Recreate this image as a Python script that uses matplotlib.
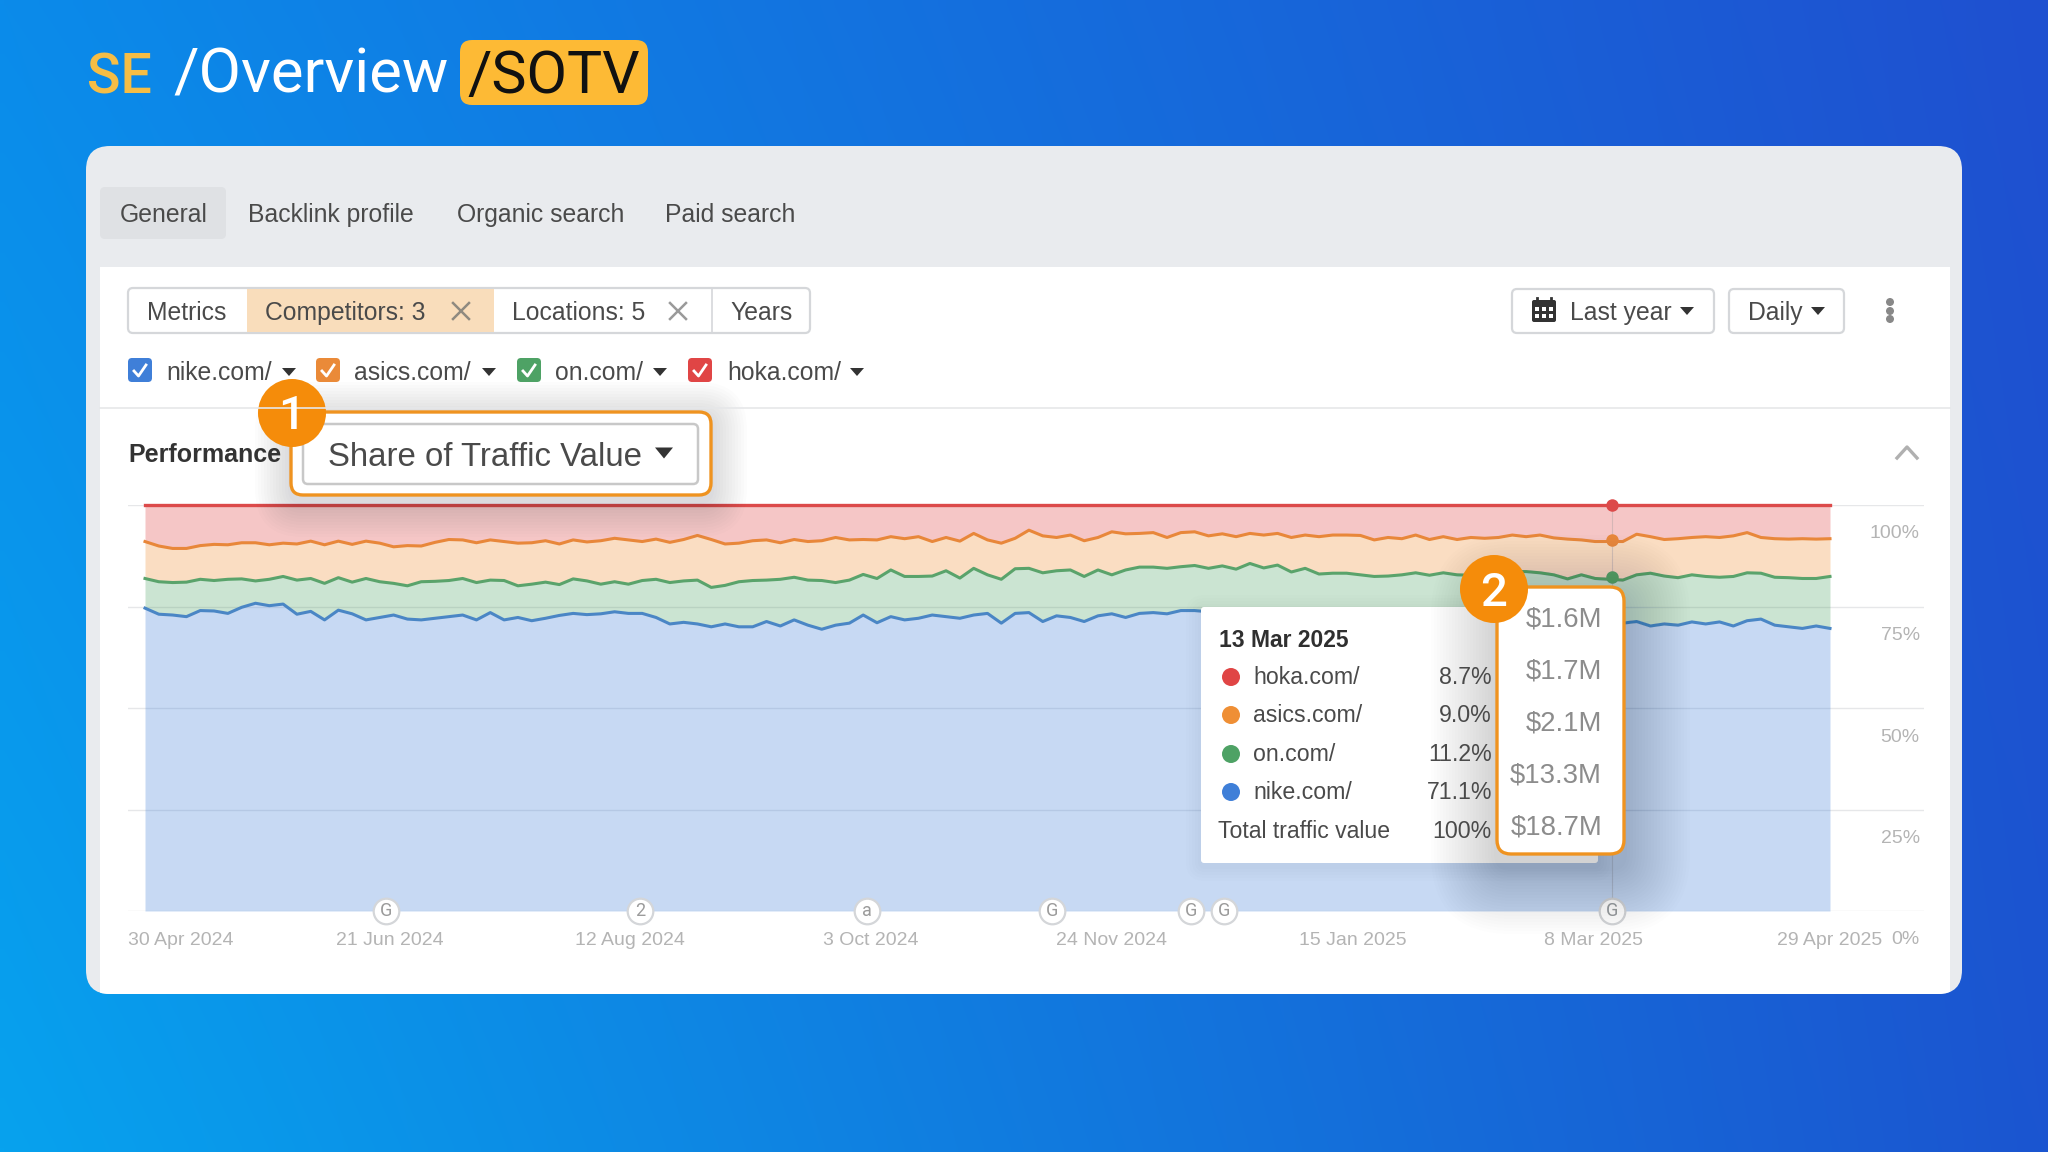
# SE /Overview /SOTV - share of traffic value stacked chart inside a dashboard card
import numpy as np
import matplotlib
matplotlib.use('Agg')
import matplotlib.pyplot as plt
from matplotlib.patches import FancyBboxPatch, Circle, Rectangle, Polygon
from matplotlib.transforms import ScaledTranslation

plt.rcParams['font.family'] = ['Liberation Sans', 'DejaVu Sans']

# cumulative share in percent (about every 3 days)
nike_top = [74.6, 73.1, 72.9, 72.5, 74.0, 73.9, 73.3, 74.8, 75.8, 75.2, 75.6, 73.1, 73.8, 71.7, 74.1, 73.2, 71.7,
            72.3, 72.9, 71.9, 71.7, 72.1, 72.5, 72.9, 71.7, 73.5, 71.7, 72.3, 71.5, 72.1, 72.8, 73.3, 73.0, 73.2,
            73.7, 73.3, 73.3, 72.3, 70.7, 71.1, 70.7, 70.0, 70.7, 70.0, 70.0, 71.3, 70.2, 71.7, 70.4,
            69.4, 70.4, 70.9, 72.9, 71.0, 72.5, 71.7, 72.1, 72.9, 72.5, 72.1, 72.9, 73.3, 70.9, 73.3, 73.5, 71.3,
            72.7, 72.3, 71.3, 72.7, 73.2, 72.3, 73.3, 73.5, 73.2, 74.0, 74.0,
            73.7, 73.5, 74.0, 73.3, 73.6, 73.2, 72.9, 73.3, 73.0, 72.7, 72.9, 72.5, 72.3, 72.7, 72.2, 72.0, 72.3,
            71.8, 72.1, 71.7, 71.8, 71.5, 71.7, 71.3, 71.2, 71.5, 71.2, 71.0, 71.2, 70.9,
            70.9, 71.3, 70.2, 70.7, 70.4, 71.2, 70.7, 71.2, 70.2, 71.5, 71.9, 70.4, 70.0, 69.6, 70.2, 69.6]
on_top = [81.9, 81.1, 80.9, 81.0, 81.7, 81.4, 81.7, 81.8, 81.3, 81.7, 82.4, 81.5, 81.9, 80.7, 82.1, 81.0, 81.9,
          81.1, 80.7, 80.1, 81.1, 81.2, 81.4, 81.9, 80.9, 81.5, 81.4, 80.1, 80.5, 81.0, 80.4, 81.8, 81.3, 80.5,
          81.1, 80.5, 81.4, 81.7, 80.9, 81.3, 81.5, 79.7, 80.2, 81.1, 81.4, 81.5, 81.7, 82.2, 81.5,
          81.4, 80.9, 81.5, 82.9, 81.9, 84.0, 82.4, 82.4, 82.5, 83.8, 82.0, 84.4, 82.8, 81.7, 84.3, 84.4, 83.3,
          83.8, 84.0, 82.4, 84.0, 82.8, 84.0, 84.7, 84.7, 84.4, 84.8, 85.1, 84.4, 85.0, 84.2, 85.6, 84.5, 85.2,
          83.5, 84.4, 83.0, 83.2, 83.2, 82.8, 82.4, 82.5, 82.8, 83.3, 82.7, 83.3, 82.8, 82.7, 82.5,
          83.2, 83.6, 83.6, 83.3, 82.8, 81.8, 82.8, 81.9, 81.7, 81.5, 82.8, 83.2, 82.5, 82.1, 82.8, 82.4, 82.2,
          82.4, 83.3, 83.2, 82.2, 82.1, 81.9, 81.9, 82.4]
asics_top = [91.0, 89.9, 89.3, 89.3, 90.0, 90.3, 90.2, 90.7, 90.7, 90.2, 90.6, 90.4, 91.1, 90.2, 91.1, 90.3, 91.1,
             90.6, 89.7, 90.0, 89.9, 90.8, 91.5, 91.4, 90.7, 91.4, 91.0, 90.6, 90.7, 91.2, 90.4, 91.4, 90.9, 91.2,
             91.8, 91.4, 91.0, 91.6, 90.8, 91.5, 92.5, 91.5, 90.4, 90.6, 91.2, 91.4, 90.7, 91.5, 91.0,
             91.2, 92.0, 91.4, 91.5, 91.4, 92.2, 91.7, 92.2, 91.0, 92.0, 91.1, 93.0, 91.4, 90.6, 91.8, 93.8, 92.4,
             92.0, 92.6, 91.2, 92.0, 93.4, 92.9, 93.0, 93.2, 92.0, 93.2, 93.4, 92.4, 92.9, 92.2, 93.0, 92.6, 93.0,
             92.0, 92.6, 92.2, 92.6, 92.6, 92.5, 91.4, 92.0, 91.7, 92.6, 91.5, 92.2, 91.5, 92.0, 91.8,
             92.0, 92.6, 92.2, 92.6, 91.9, 91.6, 91.4, 91.0, 91.0, 91.0, 92.8, 92.2, 91.5, 91.7, 92.0, 92.2, 92.0,
             92.4, 93.2, 92.0, 91.7, 91.6, 91.7, 91.6, 91.7]
hoka_top = [100.0] * len(nike_top)

tick_days = [0, 52, 104, 156, 208, 260, 312, 364]
tick_labels = ['30 Apr 2024', '21 Jun 2024', '12 Aug 2024', '3 Oct 2024', '24 Nov 2024', '15 Jan 2025', '8 Mar 2025',
               '29 Apr 2025']
pct_ticks = [0, 25, 50, 75, 100]
pct_labels = ['0%', '25%', '50%', '75%', '100%']

event_days = [52, 107, 156, 196, 226, 233, 317]
event_marks = ['G', '2', 'a', 'G', 'G', 'G', 'G']

cursor_day = 317
tip_sites = ['hoka.com/', 'asics.com/', 'on.com/', 'nike.com/']
tip_shares = [8.7, 9.0, 11.2, 71.1]
tip_values = ['$1.6M', '$1.7M', '$2.1M', '$13.3M', '$18.7M']

RED, ORANGE, GREEN, BLUE = '#dc4a4a', '#e8873a', '#5aa36b', '#4a86c5'
BADGE = '#f58c0a'
TXT = '#4a4a4a'

W, H = 2048, 1152
fig = plt.figure(figsize=(W / 100, H / 100), dpi=100)


def px_axes(z):
    a = fig.add_axes([0, 0, 1, 1], zorder=z)
    a.set_xlim(0, W)
    a.set_ylim(H, 0)
    a.axis('off')
    a.patch.set_alpha(0)
    return a


def rbox(a, x0, y0, x1, y1, r, fc='white', ec='none', lw=0, alpha=None):
    p = FancyBboxPatch((x0 + r, y0 + r), x1 - x0 - 2 * r, y1 - y0 - 2 * r, boxstyle=f'round,pad={r},rounding_size={r}',
                       fc=fc, ec=ec, lw=lw, alpha=alpha)
    a.add_patch(p)
    return p


def shadow(a, x0, y0, x1, y1, r, spread, dy=0, strength=0.012):
    for i in range(spread, 0, -3):
        rbox(a, x0 - i, y0 - i + dy, x1 + i, y1 + i + dy, r + i, fc='#10203a', alpha=strength)


def tri(a, x, y, w=14, h=8, c='#333333'):
    a.add_patch(Polygon([(x - w / 2, y - h / 2), (x + w / 2, y - h / 2), (x, y + h / 2)], fc=c, ec='none'))


# background gradient and card
bg = px_axes(0)
tl, tr, bl, br = [np.array(matplotlib.colors.to_rgb(c)) for c in ('#0b8bea', '#1f50d0', '#07a2ee', '#1b55d0')]
u, v = np.meshgrid(np.linspace(0, 1, 256), np.linspace(0, 1, 144))
grad = ((1 - u) * (1 - v))[..., None] * tl + (u * (1 - v))[..., None] * tr + ((1 - u) * v)[..., None] * bl + (u * v)[..., None] * br
bg.imshow(grad, extent=(0, W, H, 0), aspect='auto', interpolation='bilinear')
bg.set_xlim(0, W)
bg.set_ylim(H, 0)
card = rbox(bg, 86, 146, 1962, 994, 24, fc='#e9ebee')
panel = Rectangle((100, 267), 1850, 740, fc='white', ec='none')
bg.add_patch(panel)
panel.set_clip_path(card)

# chart
left, right, top, bottom = 128, 1924, 505, 911
ppd = 1685 / 364
ax = fig.add_axes([left / W, 1 - bottom / H, (right - left) / W, (bottom - top) / H], zorder=1)
ax.patch.set_alpha(0)
days = np.linspace(0, 364, len(nike_top))
ax.grid(axis='y', color='#e6e7e9', lw=1, zorder=0)
ax.set_axisbelow(True)
ax.fill_between(days, 0, nike_top, color='#3f7fd8', alpha=0.29, lw=0)
ax.fill_between(days, nike_top, on_top, color='#4ea265', alpha=0.29, lw=0)
ax.fill_between(days, on_top, asics_top, color='#f08c30', alpha=0.29, lw=0)
ax.fill_between(days, asics_top, hoka_top, color='#e04545', alpha=0.3, lw=0)
ax.plot(days, nike_top, color=BLUE, lw=2.2)
ax.plot(days, on_top, color=GREEN, lw=2.2)
ax.plot(days, asics_top, color=ORANGE, lw=2.2)
ax.plot(days, hoka_top, color=RED, lw=2.4, clip_on=False)
ax.set_xlim(-17 / ppd, (right - left - 17) / ppd)
ax.set_ylim(0, 100)
for s in ax.spines.values():
    s.set_visible(False)
ax.yaxis.tick_right()
ax.set_yticks(pct_ticks)
ax.set_yticklabels(pct_labels)
ax.set_xticks(tick_days)
ax.set_xticklabels(tick_labels)
ax.tick_params(axis='both', length=0, labelsize=14, labelcolor='#b4b4b4')
ax.tick_params(axis='x', pad=15)
ax.tick_params(axis='y', pad=-3)
down = ScaledTranslation(0, -27 / 100, fig.dpi_scale_trans)
for lab in ax.get_yticklabels():
    lab.set_ha('right')
    lab.set_transform(lab.get_transform() + down)
nudge = ScaledTranslation(4 / 100, 0, fig.dpi_scale_trans)
for lab in ax.get_xticklabels()[1:-1]:
    lab.set_transform(lab.get_transform() + nudge)
first = ax.get_xticklabels()[0]
first.set_ha('left')
first.set_transform(first.get_transform() + ScaledTranslation(-17 / 100, 0, fig.dpi_scale_trans))

# hover line and markers
ax.axvline(cursor_day, color='#9a9a9a', lw=0.8, alpha=0.35)
stack = np.cumsum(tip_shares[::-1])
for val, col in zip(stack[1:], [GREEN, ORANGE, RED]):
    ax.plot(cursor_day, val, 'o', color=col, ms=9, mew=0, clip_on=False, zorder=5)

# event markers on the baseline
ax.scatter(event_days, [0] * len(event_days), s=340, fc='white', ec='#d4d6d9', lw=1.6, clip_on=False, zorder=6)
for d, m in zip(event_days, event_marks):
    ax.text(d, 0, m, ha='center', va='center', fontsize=13, color='#9b9b9b', zorder=7, clip_on=False,
            family=['Roboto', 'DejaVu Sans'])

# everything on top of the chart, in pixel coordinates
ui = px_axes(2)


def T(x, y, s, size=18, c=TXT, ha='left', weight='normal', **kw):
    # y is the middle of the capitals
    ui.text(x, y + 0.497 * size, s, fontsize=size, color=c, ha=ha, va='baseline', fontweight=weight, **kw)


# title
title_font = ['Roboto', 'DejaVu Sans']
bg.text(87, 93, 'SE', fontsize=40, color='#f6bd45', family=title_font, va='baseline', fontweight='medium')
bg.text(173, 93, '/Overview', fontsize=44.5, color='white', family=title_font, va='baseline')
rbox(bg, 460, 40, 648, 105, 12, fc='#fdba35')
bg.text(554, 93, '/SOTV', fontsize=42.5, color='#111111', family=title_font, va='baseline', ha='center')

# tabs
rbox(bg, 100, 187, 226, 239, 5, fc='#dfe1e4')
for x, s in zip([120, 248, 457, 665], ['General', 'Backlink profile', 'Organic search', 'Paid search']):
    T(x, 213, s, size=17.8)

# filter bar
rbox(ui, 128, 288, 810, 333, 5, fc='white', ec='#d5d7da', lw=1.6)
ui.add_patch(Rectangle((247, 289), 247, 43, fc='#f9ddbb', ec='none'))
ui.plot([712, 712], [289, 332], color='#d5d7da', lw=1.2)
T(147, 311, 'Metrics', size=17.8)
T(265, 311, 'Competitors: 3', size=17.8)
T(512, 311, 'Locations: 5', size=17.8)
T(730, 311, 'Years', size=17.8)
for xc, col in [(461, '#8f8a80'), (678, '#9a9a9a')]:
    ui.plot([xc - 8, xc + 8], [303, 319], color=col, lw=1.8)
    ui.plot([xc - 8, xc + 8], [319, 303], color=col, lw=1.8)

# right hand controls
rbox(ui, 1512, 289, 1714, 333, 5, fc='white', ec='#d5d7da', lw=1.6)
rbox(ui, 1729, 289, 1844, 333, 5, fc='white', ec='#d5d7da', lw=1.6)
rbox(ui, 1532, 300, 1556, 322, 2, fc='#333333')
ui.plot([1537, 1537], [298, 302], color='#333333', lw=2)
ui.plot([1551, 1551], [298, 302], color='#333333', lw=2)
for cx in (1537, 1544, 1551):
    for cy in (309, 316):
        ui.add_patch(Rectangle((cx - 2, cy - 2), 4, 4, fc='white', ec='none'))
T(1570, 311, 'Last year', size=17.8)
tri(ui, 1687, 311)
T(1748, 311, 'Daily', size=17.8)
tri(ui, 1818, 311)
for cy in (302, 311, 319):
    ui.add_patch(Circle((1890, cy), 4, fc='#888888', ec='none'))
ui.plot([1897, 1907, 1917], [458, 447, 458], color='#b0b0b0', lw=2.4)

# site checkboxes
sites = ['nike.com/', 'asics.com/', 'on.com/', 'hoka.com/']
for x, tx, tr_x, s, col in zip([128, 316, 517, 688], [166, 354, 555, 727], [289, 489, 660, 857], sites,
                               ['#3f7fd8', '#ea8a38', '#4ea265', '#e04545']):
    rbox(ui, x, 358, x + 24, 382, 4, fc=col)
    ui.plot([x + 6, x + 10.5, x + 18], [371, 376, 365], color='white', lw=2)
    T(tx, 371, s, size=17.8)
    tri(ui, tr_x, 372)
ui.plot([100, 1950], [408, 408], color='#e6e7e9', lw=1.2)
T(128, 453, 'Performance', size=18, c='#333333', weight='bold')

# highlighted dropdown
shadow(ui, 291, 412, 711, 495, 12, 36, dy=6, strength=0.01)
rbox(ui, 291, 412, 711, 495, 12, fc='white', ec='#ef9320', lw=2.4)
rbox(ui, 303, 424, 698, 484, 5, fc='white', ec='#c8c8c8', lw=1.8)
T(328, 454, 'Share of Traffic Value', size=23.8)
tri(ui, 664, 453, w=18, h=11)
ui.add_patch(Circle((292, 413), 34, fc=BADGE, ec='none'))
T(292, 412, '1', size=34, c='white', ha='center', family=title_font, weight='medium')

# tooltip
shadow(ui, 1201, 607, 1598, 863, 4, 15, dy=3, strength=0.008)
rbox(ui, 1201, 607, 1598, 863, 3, fc='white')
T(1219, 639, '13 Mar 2025', size=16.5, c='#2f2f2f', weight='bold')
for y, s, p, col in zip([676, 714, 753, 791], tip_sites, tip_shares, ['#e04545', '#ef8f35', '#4ea265', '#3f7fd8']):
    ui.add_patch(Circle((1231, y + 1), 9, fc=col, ec='none'))
    T(1253, y, s, size=16.7)
    T(1492, y, f'{p:.1f}%', size=16.7, ha='right')
T(1218, 830, 'Total traffic value', size=16.6)
T(1492, 830, '100%', size=16.7, ha='right')

# traffic value popup
shadow(ui, 1497, 587, 1624, 854, 14, 66, dy=14, strength=0.0075)
rbox(ui, 1497, 587, 1624, 854, 14, fc='white', ec='#ef9320', lw=2.4)
for y, s in zip([617, 669, 721, 773, 825], tip_values):
    T(1602, y, s, size=19.8, c='#8c8c8c', ha='right')
ui.add_patch(Circle((1494, 589), 34, fc=BADGE, ec='none'))
T(1494, 589, '2', size=34, c='white', ha='center', family=title_font, weight='medium')

fig.savefig('out.png', dpi=100)
